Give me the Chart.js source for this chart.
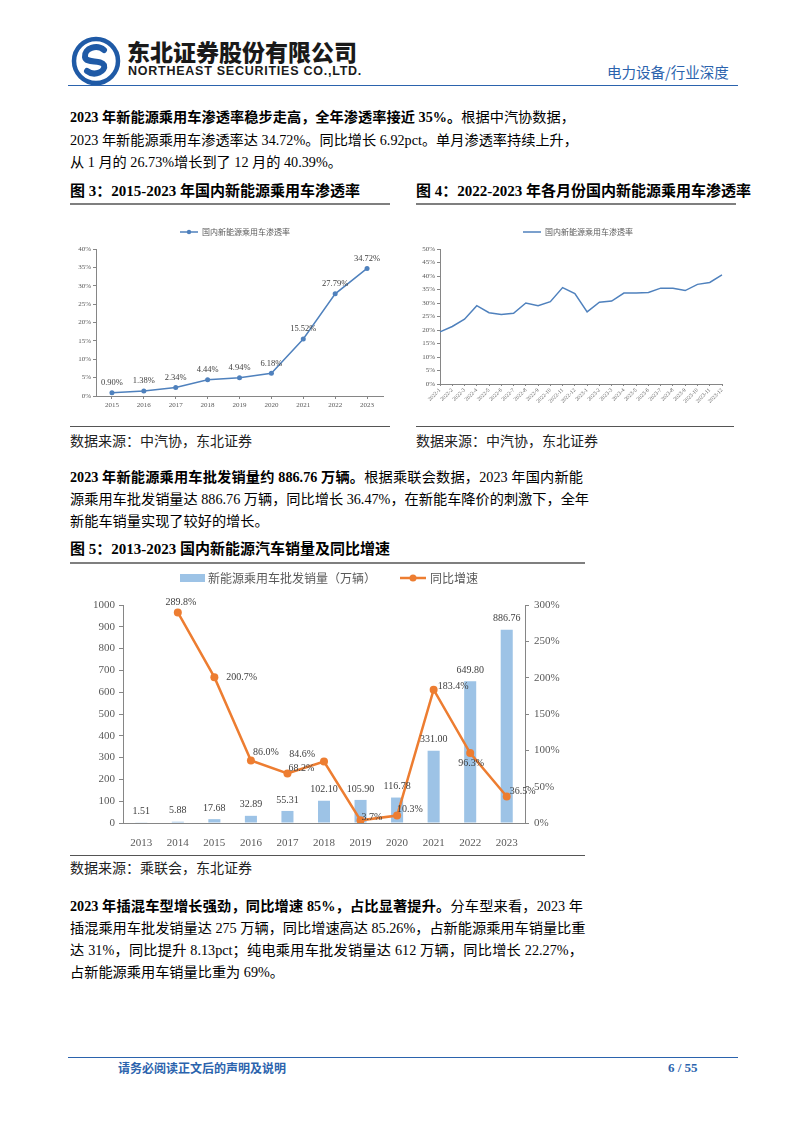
<!DOCTYPE html>
<html>
<head>
<meta charset="utf-8">
<script src="https://cdn.jsdelivr.net/npm/chart.js@4.4.1/dist/chart.umd.min.js"></script>
<style>
body { margin: 0; background: #fff; }
#page { position: relative; width: 802px; height: 1133px; overflow: hidden; background: #fff;
  font-family: "Liberation Serif", "Noto Sans CJK SC", serif; color: #000; }
.abs { position: absolute; white-space: nowrap; }
.line { position: absolute; left: 70px; font-size: 14.2px; line-height: 22px; height: 22px; white-space: nowrap; }
.full { text-align: justify; text-align-last: justify; text-justify: inter-character; }
b { font-weight: 700; }
.rule { position: absolute; height: 0; }
.src { position: absolute; left: 70px; font-size: 14px; line-height: 20px; white-space: nowrap; font-family: "Noto Sans CJK SC", sans-serif; color: #222; }
.ftitle { position: absolute; font-size: 15px; font-weight: 700; line-height: 22px; white-space: nowrap; }
canvas { position: absolute; }
</style>
</head>
<body>
<div id="page">
  <!-- header -->
  <svg class="abs" style="left:71px;top:36px" width="50" height="50" viewBox="0 0 50 50">
    <circle cx="25" cy="25" r="22" fill="none" stroke="#1f5aa6" stroke-width="4.5"/>
    <path d="M33 14 C26 8 13 12 14 21 C15 28 30 23 33 29 C35 35 24 41 16 35" fill="none" stroke="#1f5aa6" stroke-width="6" stroke-linecap="round"/>
  </svg>
  <div class="abs" style="left:127px;top:36px;font-family:'Noto Sans CJK SC';font-weight:900;font-size:23px;line-height:30px;color:#1a1a1a;">东北证券股份有限公司</div>
  <div class="abs" style="left:128px;top:64px;font-family:'Liberation Sans';font-weight:700;font-size:12.5px;line-height:14px;color:#1a1a1a;letter-spacing:0.75px;">NORTHEAST SECURITIES CO.,LTD.</div>
  <div class="abs" style="left:607px;top:61px;font-family:'Noto Sans CJK SC';font-size:14.5px;line-height:22px;color:#2b63ad;">电力设备/行业深度</div>
  <div class="rule" style="left:68px;top:85px;width:670px;border-top:1.5px solid #2b63ad;"></div>

  <!-- paragraph 1 -->
  <div class="line full" style="top:106px;width:505px;"><b>2023 年新能源乘用车渗透率稳步走高，全年渗透率接近 35%。</b>根据中汽协数据，</div>
  <div class="line full" style="top:129px;width:505px;">2023 年新能源乘用车渗透率达 34.72%。同比增长 6.92pct。单月渗透率持续上升，</div>
  <div class="line" style="top:151px;">从 1 月的 26.73%增长到了 12 月的 40.39%。</div>

  <!-- figure titles 3/4 -->
  <div class="ftitle" style="left:70px;top:180px;">图 3：2015-2023 年国内新能源乘用车渗透率</div>
  <div class="ftitle" style="left:416px;top:180px;">图 4：2022-2023 年各月份国内新能源乘用车渗透率</div>
  <div class="rule" style="left:70px;top:203px;width:320px;border-top:2px solid #7f7f7f;"></div>
  <div class="rule" style="left:416px;top:203px;width:320px;border-top:2px solid #7f7f7f;"></div>

  <canvas id="fig3" width="322" height="222" style="left:70px;top:205px;"></canvas>
  <canvas id="fig4" width="321" height="215" style="left:415px;top:205px;"></canvas>

  <div class="rule" style="left:70px;top:426px;width:320px;border-top:1px solid #555;"></div>
  <div class="rule" style="left:416px;top:426px;width:318px;border-top:1px solid #555;"></div>
  <div class="src" style="top:430px;">数据来源：中汽协，东北证券</div>
  <div class="src" style="top:430px;left:416px;">数据来源：中汽协，东北证券</div>

  <!-- paragraph 2 -->
  <div class="line full" style="top:466px;width:513px;"><b>2023 年新能源乘用车批发销量约 886.76 万辆。</b>根据乘联会数据，2023 年国内新能</div>
  <div class="line full" style="top:488px;width:513px;">源乘用车批发销量达 886.76 万辆，同比增长 36.47%，在新能车降价的刺激下，全年</div>
  <div class="line" style="top:510px;">新能车销量实现了较好的增长。</div>

  <div class="ftitle" style="left:70px;top:538px;">图 5：2013-2023 国内新能源汽车销量及同比增速</div>
  <div class="rule" style="left:70px;top:562px;width:515px;border-top:2px solid #7f7f7f;"></div>

  <canvas id="fig5" width="515" height="290" style="left:70px;top:565px;"></canvas>

  <div class="rule" style="left:70px;top:855px;width:515px;border-top:1px solid #555;"></div>
  <div class="src" style="top:857px;">数据来源：乘联会，东北证券</div>

  <!-- paragraph 3 -->
  <div class="line full" style="top:895px;width:513px;"><b>2023 年插混车型增长强劲，同比增速 85%，占比显著提升。</b>分车型来看，2023 年</div>
  <div class="line full" style="top:917px;width:513px;">插混乘用车批发销量达 275 万辆，同比增速高达 85.26%，占新能源乘用车销量比重</div>
  <div class="line full" style="top:939px;width:513px;">达 31%，同比提升 8.13pct；纯电乘用车批发销量达 612 万辆，同比增长 22.27%，</div>
  <div class="line" style="top:961px;">占新能源乘用车销量比重为 69%。</div>

  <!-- footer -->
  <div class="rule" style="left:68px;top:1057px;width:670px;border-top:1.5px solid #2b63ad;"></div>
  <div class="abs" style="left:118px;top:1060px;font-family:'Noto Sans CJK SC';font-weight:700;font-size:12px;line-height:16px;color:#2b63ad;">请务必阅读正文后的声明及说明</div>
  <div class="abs" style="left:668px;top:1059px;font-weight:700;font-size:13px;line-height:18px;color:#2b63ad;">6 / 55</div>
</div>

<script>
// fig 3: yearly penetration
const penYears = ['2015', '2016', '2017', '2018', '2019', '2020', '2021', '2022', '2023'];
const penRate = [0.90, 1.38, 2.34, 4.44, 4.94, 6.18, 15.52, 27.79, 34.72];

// fig 4: monthly penetration 2022-1 .. 2023-12
const months = ['2022-1', '2022-2', '2022-3', '2022-4', '2022-5', '2022-6', '2022-7', '2022-8', '2022-9', '2022-10', '2022-11', '2022-12',
  '2023-1', '2023-2', '2023-3', '2023-4', '2023-5', '2023-6', '2023-7', '2023-8', '2023-9', '2023-10', '2023-11', '2023-12'];
const monthRate = [19.3, 21.3, 24.0, 29.0, 26.4, 25.7, 26.2, 30.0, 29.0, 30.5, 35.7, 33.5,
  26.73, 30.3, 30.7, 33.7, 33.7, 33.9, 35.5, 35.5, 34.6, 36.9, 37.6, 40.39];

// fig 5: sales and growth
const salesYears = ['2013', '2014', '2015', '2016', '2017', '2018', '2019', '2020', '2021', '2022', '2023'];
const sales = [1.51, 5.88, 17.68, 32.89, 55.31, 102.10, 105.90, 116.78, 331.00, 649.80, 886.76];
const growth = [null, 289.8, 200.7, 86.0, 68.2, 84.6, 3.7, 10.3, 183.4, 96.3, 36.5];

const penTicks = [0, 5, 10, 15, 20, 25, 30, 35, 40];
const monthTicks = [0, 5, 10, 15, 20, 25, 30, 35, 40, 45, 50];

const BLUE_LINE = '#4f81bd';
const AXIS = '#868686';
const TXT = '#595959';
const SERIF = '"Liberation Serif", serif';
const CJK = '"Noto Sans CJK SC", sans-serif';

// labels next to points/bars
const valueLabels = {
  id: 'valueLabels',
  afterDatasetsDraw(chart, args, opts) {
    const ctx = chart.ctx;
    (opts.items || []).forEach(item => {
      const meta = chart.getDatasetMeta(item.dataset);
      const data = chart.data.datasets[item.dataset].data;
      ctx.save();
      ctx.font = item.font;
      ctx.fillStyle = item.color;
      ctx.textBaseline = 'middle';
      meta.data.forEach((el, i) => {
        const v = data[i];
        if (v == null) return;
        const o = item.offset(i);
        ctx.textAlign = o[2];
        ctx.fillText(item.format(v), el.x + o[0], el.y + o[1]);
      });
      ctx.restore();
    });
  }
};

// legend drawn by hand, so line+dot and box keys look like the excel ones
const handLegend = {
  id: 'handLegend',
  afterDraw(chart, args, opts) {
    const ctx = chart.ctx;
    (opts.items || []).forEach(it => {
      const ds = chart.data.datasets[it.dataset];
      ctx.save();
      if (it.type === 'box') {
        ctx.fillStyle = ds.backgroundColor;
        ctx.fillRect(it.x, it.y - it.h / 2, it.w, it.h);
      } else {
        ctx.strokeStyle = ds.borderColor;
        ctx.lineWidth = ds.borderWidth;
        ctx.beginPath();
        ctx.moveTo(it.x, it.y);
        ctx.lineTo(it.x + it.w, it.y);
        ctx.stroke();
        if (it.dot) {
          ctx.fillStyle = ds.borderColor;
          ctx.beginPath();
          ctx.arc(it.x + it.w / 2, it.y, it.dot, 0, Math.PI * 2);
          ctx.fill();
        }
      }
      ctx.font = it.font;
      ctx.fillStyle = TXT;
      ctx.textBaseline = 'middle';
      ctx.textAlign = 'left';
      ctx.fillText(ds.label, it.x + it.w + it.gap, it.y);
      ctx.restore();
    });
  }
};

Chart.defaults.animation = false;
Chart.defaults.responsive = false;
Chart.defaults.plugins.legend.display = false;
Chart.defaults.plugins.tooltip.enabled = false;

// ---- figure 3
new Chart(document.getElementById('fig3'), {
  type: 'line',
  data: {
    labels: penYears,
    datasets: [{
      label: '国内新能源乘用车渗透率',
      data: penRate,
      borderColor: BLUE_LINE,
      backgroundColor: BLUE_LINE,
      borderWidth: 1.5,
      pointRadius: 2.5,
      pointBackgroundColor: BLUE_LINE,
      pointBorderWidth: 0,
      tension: 0
    }]
  },
  options: {
    layout: { padding: { top: 44, right: 9, left: 0, bottom: 0 } },
    scales: {
      x: {
        offset: true,
        grid: { display: true, drawOnChartArea: false, tickLength: 3, color: AXIS },
        border: { color: AXIS },
        ticks: { font: { family: SERIF, size: 7 }, color: TXT, padding: 2, maxRotation: 0 },
        afterFit(s) { s.height = 31; }
      },
      y: {
        min: 0, max: 40,
        afterBuildTicks(s) { s.ticks = penTicks.map(v => ({ value: v })); },
        grid: { display: true, drawOnChartArea: false, tickLength: 3, color: AXIS },
        border: { color: AXIS },
        ticks: { font: { family: SERIF, size: 7 }, color: TXT, padding: 2, callback: v => v + '%' },
        afterFit(s) { s.width = 26; }
      }
    },
    plugins: {
      valueLabels: {
        items: [{
          dataset: 0,
          font: '8.5px ' + SERIF,
          color: '#404040',
          format: v => v.toFixed(2) + '%',
          offset: () => [0, -10, 'center']
        }]
      },
      handLegend: {
        items: [{ dataset: 0, type: 'line', x: 110, y: 27, w: 18, gap: 4, dot: 2.2, font: '8px ' + CJK }]
      }
    }
  },
  plugins: [valueLabels, handLegend]
});

// ---- figure 4
new Chart(document.getElementById('fig4'), {
  type: 'line',
  data: {
    labels: months,
    datasets: [{
      label: '国内新能源乘用车渗透率',
      data: monthRate,
      borderColor: BLUE_LINE,
      borderWidth: 1.5,
      pointRadius: 0,
      tension: 0
    }]
  },
  options: {
    layout: { padding: { top: 44, right: 14, left: 0, bottom: 0 } },
    scales: {
      x: {
        offset: false,
        grid: { display: true, drawOnChartArea: false, tickLength: 2, color: AXIS },
        border: { color: AXIS },
        ticks: { font: { family: SERIF, size: 5.5 }, color: TXT, padding: 1, minRotation: 45, maxRotation: 45, autoSkip: false },
        afterFit(s) { s.height = 36; }
      },
      y: {
        min: 0, max: 50,
        afterBuildTicks(s) { s.ticks = monthTicks.map(v => ({ value: v })); },
        grid: { display: true, drawOnChartArea: false, tickLength: 3, color: AXIS },
        border: { color: AXIS },
        ticks: { font: { family: SERIF, size: 7 }, color: TXT, padding: 2, callback: v => v + '%' },
        afterFit(s) { s.width = 25; }
      }
    },
    plugins: {
      handLegend: {
        items: [{ dataset: 0, type: 'line', x: 108, y: 27, w: 18, gap: 4, font: '8px ' + CJK }]
      }
    }
  },
  plugins: [handLegend]
});

// ---- figure 5
// label placement for the growth line: [dx, dy, align]
const growthLabelPos = [
  null, [3, -10, 'center'], [12, 0, 'left'], [2, -8, 'left'], [1, -5, 'left'], [-9, -7, 'right'],
  [1, -3, 'left'], [0, -6, 'left'], [4, -3, 'left'], [1, 10, 'center'], [3, -5, 'left']
];

new Chart(document.getElementById('fig5'), {
  type: 'bar',
  data: {
    labels: salesYears,
    datasets: [{
      type: 'line',
      label: '同比增速',
      data: growth,
      yAxisID: 'y1',
      borderColor: '#ed7d31',
      backgroundColor: '#ed7d31',
      borderWidth: 2.5,
      pointRadius: 4,
      pointBackgroundColor: '#ed7d31',
      pointBorderWidth: 0,
      tension: 0,
      order: 0
    }, {
      type: 'bar',
      label: '新能源乘用车批发销量（万辆）',
      data: sales,
      yAxisID: 'y',
      backgroundColor: '#9dc3e6',
      categoryPercentage: 1,
      barPercentage: 0.33,
      order: 1
    }]
  },
  options: {
    layout: { padding: { top: 40, right: 0, left: 0, bottom: 0 } },
    scales: {
      x: {
        grid: { display: false },
        border: { color: AXIS },
        ticks: { font: { family: SERIF, size: 11 }, color: TXT, padding: 6, maxRotation: 0 },
        afterFit(s) { s.height = 32; }
      },
      y: {
        position: 'left',
        min: 0, max: 1000,
        ticks: { stepSize: 100, font: { family: SERIF, size: 11 }, color: TXT, padding: 4, callback: v => String(v) },
        grid: { display: true, drawOnChartArea: false, tickLength: 4, color: AXIS },
        border: { color: AXIS },
        afterFit(s) { s.width = 53; }
      },
      y1: {
        position: 'right',
        min: 0, max: 300,
        ticks: { stepSize: 50, font: { family: SERIF, size: 11 }, color: TXT, padding: 5, callback: v => v + '%' },
        grid: { display: true, drawOnChartArea: false, tickLength: 4, color: AXIS },
        border: { color: AXIS },
        afterFit(s) { s.width = 60; }
      }
    },
    plugins: {
      valueLabels: {
        items: [{
          dataset: 1,
          font: '10px ' + SERIF,
          color: '#404040',
          format: v => v.toFixed(2),
          offset: () => [0, -11, 'center']
        }, {
          dataset: 0,
          font: '10px ' + SERIF,
          color: '#404040',
          format: v => v.toFixed(1) + '%',
          offset: i => growthLabelPos[i]
        }]
      },
      handLegend: {
        items: [
          { dataset: 1, type: 'box', x: 110, y: 13, w: 25, h: 8, gap: 3, font: '12px ' + CJK },
          { dataset: 0, type: 'line', x: 330, y: 13, w: 26, gap: 4, dot: 3.5, font: '12px ' + CJK }
        ]
      }
    }
  },
  plugins: [valueLabels, handLegend]
});
</script>
</body>
</html>
